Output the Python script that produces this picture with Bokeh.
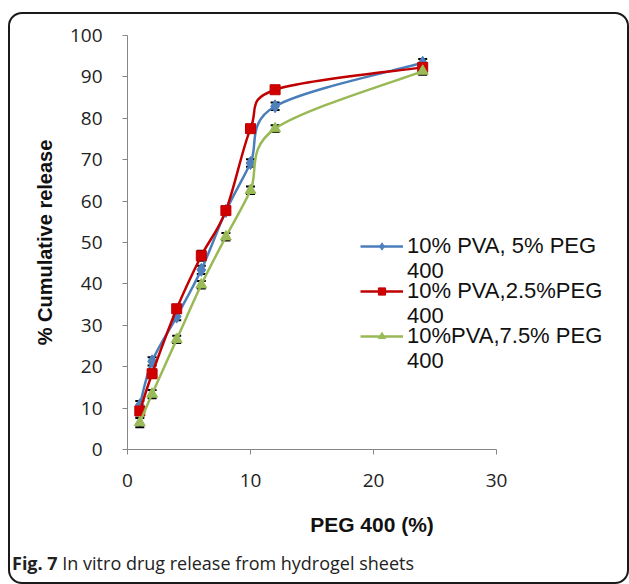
import numpy as np
from bokeh.plotting import figure
from bokeh.models import (Range1d, FixedTicker, Legend, LegendItem, Whisker,
                          ColumnDataSource, Div, TeeHead)
from bokeh.layouts import column
from bokeh.embed import file_html
from bokeh.resources import INLINE

# ---- data ----
peg = [1, 2, 4, 6, 8, 10, 12, 24]
blue_vals = [10.7, 21.3, 32.1, 43.4, 57.6, 69.2, 82.9, 93.4]
red_vals = [9.3, 18.3, 34.0, 46.8, 57.7, 77.5, 86.9, 92.3]
green_vals = [6.5, 13.4, 26.6, 39.8, 51.4, 62.6, 77.5, 91.4]
blue_err = [1.0, 1.0, 0.9, 1.0, 0.8, 0.9, 0.9, 0.9]
red_err = [1.0, 1.0, 0.8, 1.2, 0.8, 0.8, 0.7, 0.9]
green_err = [1.1, 1.0, 0.9, 0.9, 0.9, 0.9, 0.8, 0.9]
labels = ["10% PVA, 5% PEG", "10% PVA,2.5%PEG", "10%PVA,7.5% PEG"]
label_second_line = "400"
x_ticks = [0, 10, 20, 30]
y_ticks = [0, 10, 20, 30, 40, 50, 60, 70, 80, 90, 100]
x_axis_max = 30

series = [
    (blue_vals, blue_err, labels[0], "#4A7EBB", "#4F81BD", "diamond", 13),
    (red_vals, red_err, labels[1], "#C00000", "#D00000", "square", 10),
    (green_vals, green_err, labels[2], "#98B954", "#9BBB59", "triangle", 11),
]

AXIS_PX = 369          # pixel length of the 0..30 axis
FRAME_W = 489          # frame is wider so the legend is not clipped
p = figure(output_backend="svg", toolbar_location=None,
           x_range=Range1d(0, x_axis_max * FRAME_W / AXIS_PX), y_range=Range1d(0, 100),
           frame_width=FRAME_W, frame_height=414,
           min_border_left=117, min_border_right=617 - 117 - FRAME_W,
           min_border_top=21, min_border_bottom=96,
           border_fill_alpha=0, background_fill_color="white")
p.outline_line_color = None
p.grid.visible = False

for ax in (p.xaxis[0], p.yaxis[0]):
    ax.axis_line_color = "#868686"
    ax.major_tick_line_color = "#868686"
    ax.major_tick_out = 5
    ax.major_tick_in = 0
    ax.minor_tick_line_color = None
    ax.major_label_text_font = "Open Sans"
    ax.major_label_text_font_size = "19px"
    ax.major_label_text_color = "#222222"
    ax.axis_label_text_font = "Liberation Sans"
    ax.axis_label_text_font_style = "bold"
    ax.axis_label_text_color = "#111111"

p.xaxis.bounds = (0, x_axis_max)
p.xaxis.ticker = FixedTicker(ticks=x_ticks)
p.yaxis.ticker = FixedTicker(ticks=y_ticks)
p.xaxis.axis_label = "PEG 400 (%)"
p.yaxis.axis_label = "% Cumulative release"
p.xaxis.axis_label_text_font_size = "21px"
p.yaxis.axis_label_text_font_size = "20px"
p.xaxis.major_label_standoff = 19
p.yaxis.major_label_standoff = 20
p.xaxis.axis_label_standoff = 23
p.yaxis.axis_label_standoff = 11


def smooth_segments(xs, ys):
    xs = np.asarray(xs, float)
    ys = np.asarray(ys, float)
    n = len(xs)
    px = np.concatenate([[xs[0]], xs, [xs[-1]]])
    py = np.concatenate([[ys[0]], ys, [ys[-1]]])
    d = dict(x0=[], y0=[], x1=[], y1=[], cx0=[], cy0=[], cx1=[], cy1=[])
    for i in range(n - 1):
        j = i + 1
        d["x0"].append(px[j]); d["y0"].append(py[j])
        d["x1"].append(px[j + 1]); d["y1"].append(py[j + 1])
        d["cx0"].append(px[j] + (px[j + 1] - px[j - 1]) / 6)
        d["cy0"].append(py[j] + (py[j + 1] - py[j - 1]) / 6)
        d["cx1"].append(px[j + 1] - (px[j + 2] - px[j]) / 6)
        d["cy1"].append(py[j + 1] - (py[j + 2] - py[j]) / 6)
    return ColumnDataSource(d)


# invisible renderer used for the legend's second ("400") lines
blank = p.line(x=[], y=[], line_alpha=0)

items_main = []
items_second = []
for vals, err, lab, lc, mc, marker, size in series:
    seg = smooth_segments(peg, vals)
    br = p.bezier(x0="x0", y0="y0", x1="x1", y1="y1", cx0="cx0", cy0="cy0",
                  cx1="cx1", cy1="cy1", source=seg, line_color=lc, line_width=2.5)
    src = ColumnDataSource(dict(x=peg, y=vals,
                                lo=[v - e for v, e in zip(vals, err)],
                                hi=[v + e for v, e in zip(vals, err)]))
    sr = p.scatter("x", "y", source=src, marker=marker, size=size,
                   fill_color=mc, line_color=lc, line_width=1)
    w = Whisker(base="x", lower="lo", upper="hi", source=src, dimension="height",
                line_color="black", line_width=1.2,
                upper_head=TeeHead(size=9, line_color="black", line_width=2),
                lower_head=TeeHead(size=9, line_color="black", line_width=2))
    p.add_layout(w)
    items_main.append(LegendItem(label=lab, renderers=[br, sr]))
    items_second.append(LegendItem(label=label_second_line, renderers=[blank]))

legend_style = dict(label_text_font="Liberation Sans", label_text_font_size="22px",
                    label_text_color="#111111", label_standoff=4,
                    glyph_width=43, glyph_height=18, spacing=19, padding=0, margin=0,
                    border_line_alpha=0, background_fill_alpha=0, label_height=18)
legend1 = Legend(items=items_main, location=(233, 100), **legend_style)
legend2 = Legend(items=items_second, location=(233, 75), **legend_style)
p.add_layout(legend1, "center")
p.add_layout(legend2, "center")

cap = Div(text="<b>Fig. 7</b> In vitro drug release from hydrogel sheets",
          width=615, height=37, margin=0,
          styles={"font-family": "Open Sans", "font-size": "18px",
                  "color": "#222222", "padding-left": "2px", "padding-top": "6px"})

layout = column(p, cap, styles={"border": "2px solid #1a1a1a", "border-radius": "14px",
                                "margin-top": "12px", "margin-left": "8px",
                                "overflow": "hidden", "background-color": "white"})

open("out.html", "w").write(file_html(layout, INLINE))
